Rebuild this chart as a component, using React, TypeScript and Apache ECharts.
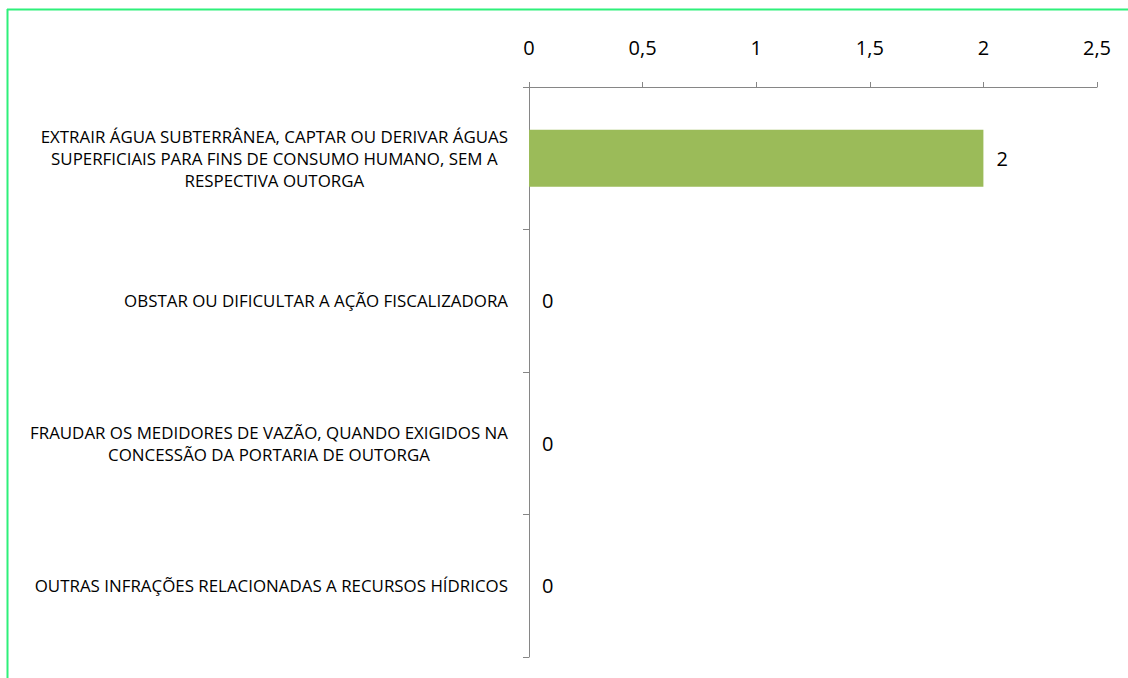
import React, { useEffect, useRef } from "react";
import * as echarts from "echarts";

const categories = [
  "EXTRAIR ÁGUA SUBTERRÂNEA, CAPTAR OU DERIVAR ÁGUAS\nSUPERFICIAIS PARA FINS DE CONSUMO HUMANO, SEM A\nRESPECTIVA OUTORGA",
  "OBSTAR OU DIFICULTAR A AÇÃO FISCALIZADORA",
  "FRAUDAR OS MEDIDORES DE VAZÃO, QUANDO EXIGIDOS NA\nCONCESSÃO DA PORTARIA DE OUTORGA",
  "OUTRAS INFRAÇÕES RELACIONADAS A RECURSOS HÍDRICOS",
];
const values = [2, 0, 0, 0];
const xMin = 0;
const xMax = 2.5;
const xStep = 0.5;

const FONT = "Open Sans";

export default function App() {
  const ref = useRef<HTMLDivElement>(null);
  useEffect(() => {
    if (!ref.current) return;
    const chart = echarts.init(ref.current, null, { renderer: "svg" });
    chart.setOption({
      animation: false,
      backgroundColor: "#ffffff",
      grid: { left: 529, right: 31, top: 87, bottom: 21, containLabel: false },
      xAxis: {
        type: "value",
        position: "top",
        min: xMin,
        max: xMax,
        interval: xStep,
        axisLine: { show: true, lineStyle: { color: "#868686", width: 1 } },
        axisTick: { show: true, length: 5, lineStyle: { color: "#868686" } },
        splitLine: { show: false },
        axisLabel: {
          margin: 30,
          fontFamily: FONT,
          fontSize: 20,
          color: "#000000",
          formatter: (v: number) => String(v).replace(".", ","),
        },
      },
      yAxis: {
        type: "category",
        inverse: true,
        data: categories,
        axisLine: { show: true, lineStyle: { color: "#868686", width: 1 } },
        axisTick: { show: true, length: 6, lineStyle: { color: "#868686" } },
        axisLabel: {
          margin: 21,
          fontFamily: FONT,
          fontSize: 16.9,
          color: "#000000",
          formatter: (v: string) =>
            v
              .split("\n")
              .map((l) => `{c|${l}}`)
              .join("\n"),
          rich: {
            c: {
              align: "center",
              fontFamily: FONT,
              fontSize: 16.9,
              lineHeight: 22,
              color: "#000000",
            },
          },
        },
      },
      series: [
        {
          type: "bar",
          data: values,
          barWidth: 57,
          itemStyle: { color: "#9BBB59" },
          label: {
            show: true,
            position: "right",
            distance: 13,
            fontFamily: FONT,
            fontSize: 20,
            color: "#000000",
          },
        },
      ],
      graphic: [
        {
          type: "line",
          shape: { x1: 7.5, y1: 9, x2: 7.5, y2: 678 },
          style: { stroke: "#2EF07A", lineWidth: 2 },
        },
        {
          type: "line",
          shape: { x1: 7, y1: 9.5, x2: 1128, y2: 9.5 },
          style: { stroke: "#2EF07A", lineWidth: 2 },
        },
      ],
    });
    return () => chart.dispose();
  }, []);
  return (
    <div
      ref={ref}
      style={{ position: "fixed", left: 0, top: 0, width: 1128, height: 678 }}
    />
  );
}
